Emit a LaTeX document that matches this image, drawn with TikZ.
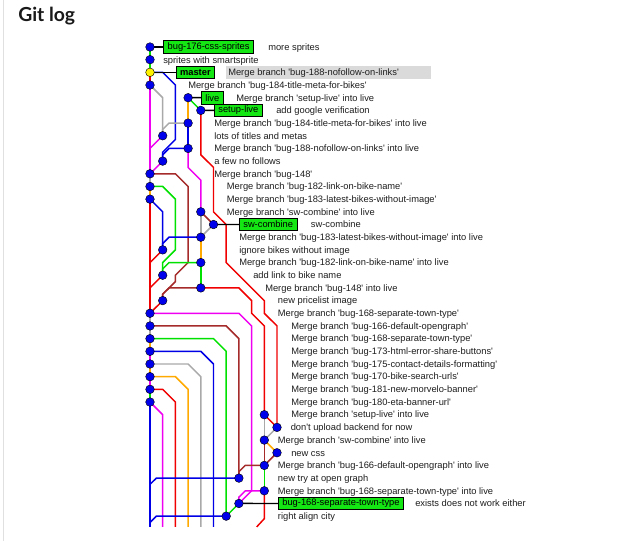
\documentclass[tikz,border=0pt]{standalone}
\usepackage{fontspec}
\setmainfont{Liberation Sans}[Ligatures=TeXOff]
\newfontfamily\titlefont{Lato}
\definecolor{cgreen}{RGB}{0,225,0}
\definecolor{cred}{RGB}{240,0,0}
\definecolor{cblue}{RGB}{0,0,230}
\definecolor{cmag}{RGB}{240,0,240}
\definecolor{cgray}{RGB}{169,169,169}
\definecolor{cbrown}{RGB}{165,42,42}
\definecolor{corange}{RGB}{255,170,0}
\definecolor{tagfill}{RGB}{20,230,20}
\definecolor{dotblue}{RGB}{0,0,235}
\definecolor{hlgray}{RGB}{218,218,218}
\definecolor{txt}{RGB}{30,30,30}
\tikzset{
  ln/.style={line width=1.1pt},
  cdot/.style={circle, fill=dotblue, draw=black, line width=0.3pt, minimum size=6.5pt, inner sep=0pt},
  headdot/.style={cdot, fill=yellow},
  tag/.style={draw=black, line width=0.5pt, fill=tagfill, font=\fontsize{7}{8}\selectfont, inner xsep=3pt, inner ysep=0pt, minimum height=9.5pt, anchor=west, text=black},
  msg/.style={font=\fontsize{7}{8}\selectfont, anchor=base west, inner sep=0pt, text=txt},
  conn/.style={line width=1.1pt, black},
}
\begin{document}
\begin{tikzpicture}[x=0.75pt, y=-0.75pt]
\fill[white] (0,0) rectangle (619,541);
\useasboundingbox (0,0) rectangle (619,541);
\draw[line width=0.8pt, black!12] (3.5,0) -- (3.5,541);
\node[anchor=base west, inner sep=0pt, font=\titlefont\bfseries\fontsize{14.5}{16}\selectfont, text=black!90] (title) at (18,21.7) {Git log};

\begin{scope}[shift={(150,34.32)}, x=9.525pt, y=-9.51pt]
% commit coordinates
\coordinate (k1) at (0,1); \coordinate (k2) at (0,2); \coordinate (k3) at (0,3);
\coordinate (k4) at (0,4); \coordinate (k5) at (3,5); \coordinate (k6) at (4,6);
\coordinate (k7) at (3,7); \coordinate (k8) at (1,8); \coordinate (k9) at (3,9);
\coordinate (k10) at (1,10); \coordinate (k11) at (0,11); \coordinate (k12) at (0,12);
\coordinate (k13) at (0,13); \coordinate (k14) at (4,14); \coordinate (k15) at (5,15);
\coordinate (k16) at (4,16); \coordinate (k17) at (1,17); \coordinate (k18) at (4,18);
\coordinate (k19) at (1,19); \coordinate (k20) at (4,20); \coordinate (k21) at (1,21);
\coordinate (k22) at (0,22); \coordinate (k23) at (0,23); \coordinate (k24) at (0,24);
\coordinate (k25) at (0,25); \coordinate (k26) at (0,26); \coordinate (k27) at (0,27);
\coordinate (k28) at (0,28); \coordinate (k29) at (0,29); \coordinate (k30) at (9,30);
\coordinate (k31) at (10,31); \coordinate (k32) at (9,32); \coordinate (k33) at (10,33);
\coordinate (k34) at (9,34); \coordinate (k35) at (7,35); \coordinate (k36) at (9,36);
\coordinate (k37) at (7,37); \coordinate (k38) at (6,38);
% bottom ends
\coordinate (b0) at (0,38.85); \coordinate (b1) at (1,38.85); \coordinate (b2) at (2,38.85);
\coordinate (b3) at (3,38.85); \coordinate (b4) at (4,38.85); \coordinate (b5) at (5,38.85);
\coordinate (b9) at (8.4,38.85);

% lines, upper part
\draw[ln,cgreen] (k1) -- (k3);
\draw[ln,cred] (k3) -- (k4);
\draw[ln,cblue] (k3) -- (1,3) -- (2,4) -- (2,8.3) -- (1,9.3) -- (k10);
\draw[ln,cmag] (k4) -- (k11);
\draw[ln,cgray] (k4) -- (1,5) -- (k8);
\draw[ln,corange] (k5) -- (k7);
\draw[ln,cgreen] (k5) -- (k6);
\draw[ln,cgray] (k7) -- (1.5,7) -- (1,7.5) -- (k8);
\draw[ln,cblue] (k7) -- (k9);
\draw[ln,cmag] (k8) -- (0,9);
\draw[ln,cblue] (k9) -- (1.5,9) -- (1,9.5) -- (k10);
\draw[ln,cmag] (k9) -- (3,10.5) -- (4,11.5) -- (k14);
\draw[ln,cmag] (k10) -- (k11);
\draw[ln,cred] (k6) -- (4,9.5) -- (5,10.5) -- (5,14) -- (6,15) -- (6,18) -- (7,19) -- (8,20) -- (9,21) -- (9,22) -- (10,23) -- (k31);
\draw[ln,cgray] (k11) -- (k12);
\draw[ln,cbrown] (k11) -- (2,11) -- (3,12) -- (3,18) -- (2,19) -- (2,19.5) -- (1,20.5) -- (k21);
\draw[ln,corange] (k12) -- (k13);
\draw[ln,cgreen] (k12) -- (1,12) -- (2,13) -- (2,17) -- (1,18) -- (k19);
\draw[ln,cred] (k13) -- (k22);
\draw[ln,cblue] (k13) -- (1,14) -- (k17);
\draw[ln,cbrown] (k14) -- (k15);
\draw[ln,cgray] (k14) -- (k16);
\draw[ln,cgray] (k15) -- (k16);
\draw[ln,cblue] (k16) -- (1.5,16) -- (1,16.5) -- (k17);
\draw[ln,corange] (k16) -- (k18);
\draw[ln,cred] (k17) -- (0,18);
\draw[ln,cgreen] (k18) -- (1.5,18) -- (1,18.5) -- (k19);
\draw[ln,cgreen] (k18) -- (k20);
\draw[ln,cred] (k19) -- (0,20);
\draw[ln,cbrown] (k20) -- (1.5,20) -- (1,20.5) -- (k21);
\draw[ln,cred] (k20) -- (7,20) -- (8,21) -- (8,22) -- (9,23) -- (k30);
\draw[ln,cred] (k21) -- (k22);

% lower part
\draw[ln,cgray] (k22) -- (k23);
\draw[ln,cgray] (k23) -- (k24);
\draw[ln,corange] (k24) -- (k25);
\draw[ln,cmag] (k25) -- (k26);
\draw[ln,corange] (k26) -- (k27);
\draw[ln,cmag] (k27) -- (k28);
\draw[ln,cgreen] (k28) -- (k29);
\draw[ln,cmag] (k22) -- (7,22) -- (8,23) -- (8,36) -- (k37);
\draw[ln,cbrown] (k23) -- (6,23) -- (7,24) -- (k35);
\draw[ln,cgreen] (k24) -- (5,24) -- (6,25) -- (k38);
\draw[ln,cblue] (k25) -- (4,25) -- (5,26) -- (b5);
\draw[ln,cgray] (k26) -- (3,26) -- (4,27) -- (b4);
\draw[ln,corange] (k27) -- (2,27) -- (3,28) -- (b3);
\draw[ln,cred] (k28) -- (1,28) -- (2,29) -- (b2);
\draw[ln,cmag] (k29) -- (1,30) -- (b1);
\draw[ln,cblue] (k29) -- (b0);
\draw[ln,cred] (k30) -- (k31);
\draw[ln,cgray] (k30) -- (k32);
\draw[ln,cgray] (k31) -- (k32);
\draw[ln,corange] (k32) -- (k33);
\draw[ln,cbrown] (k32) -- (k34);
\draw[ln,cbrown] (k33) -- (k34);
\draw[ln,cgreen] (k34) -- (k36);
\draw[ln,cbrown] (k34) -- (7.5,34) -- (7,34.5) -- (k35);
\draw[ln,cblue] (k35) -- (0.5,35) -- (0,35.5);
\draw[ln,cmag] (k36) -- (7.5,36) -- (7,36.5) -- (k37);
\draw[ln,cred] (k36) -- (9,38.2) -- (b9);
\draw[ln,cgreen] (k37) -- (k38);
\draw[ln,cblue] (k38) -- (0.5,38) -- (0,38.5);
\end{scope}

% branch tags
\node[tag] (t1) at (163.3,47) {bug-176-css-sprites};
\node[tag, font=\fontsize{7}{8}\selectfont\bfseries] (t3) at (175.7,72.36) {master};
\node[tag] (t5) at (201,97.7) {live};
\node[tag] (t6) at (214,110.4) {setup-live};
\node[tag] (t15) at (239,224.5) {sw-combine};
\node[tag] (t37) at (278,503.5) {bug-168-separate-town-type};
\draw[conn] (k1) -- (t1.west);
\draw[conn] (k3) -- (t3.west);
\draw[conn] (k5) -- (t5.west);
\draw[conn] (k6) -- (t6.west);
\draw[conn] (k15) -- (t15.west);
\draw[conn] (k37) -- (t37.west);

% dots
\foreach \k in {1,2,4,5,6,7,8,9,10,11,12,13,14,15,16,17,18,19,20,21,22,23,24,25,26,27,28,29,30,31,32,33,34,35,36,37,38}
  \node[cdot] (d\k) at (k\k) {};
\node[headdot] (d3) at (k3) {};

% messages
\fill[hlgray] (226,66) rectangle (431,79);
\node[msg] (m1) at (268,50.4) {more sprites};
\node[msg] (m2) at (163,63.1) {sprites with smartsprite};
\node[msg] (m3) at (228,75.8) {Merge branch 'bug-188-nofollow-on-links'};
\node[msg] (m4) at (188,88.4) {Merge branch 'bug-184-title-meta-for-bikes'};
\node[msg] (m5) at (236,101.1) {Merge branch 'setup-live' into live};
\node[msg] (m6) at (276,113.8) {add google verification};
\node[msg] (m7) at (214,126.5) {Merge branch 'bug-184-title-meta-for-bikes' into live};
\node[msg] (m8) at (214,139.1) {lots of titles and metas};
\node[msg] (m9) at (214,151.8) {Merge branch 'bug-188-nofollow-on-links' into live};
\node[msg] (m10) at (214,164.5) {a few no follows};
\node[msg] (m11) at (214,177.2) {Merge branch 'bug-148'};
\node[msg] (m12) at (226.7,189.9) {Merge branch 'bug-182-link-on-bike-name'};
\node[msg] (m13) at (226.7,202.5) {Merge branch 'bug-183-latest-bikes-without-image'};
\node[msg] (m14) at (226.7,215.2) {Merge branch 'sw-combine' into live};
\node[msg] (m15) at (310.7,227.9) {sw-combine};
\node[msg] (m16) at (239,240.6) {Merge branch 'bug-183-latest-bikes-without-image' into live};
\node[msg] (m17) at (239,253.2) {ignore bikes without image};
\node[msg] (m18) at (239,265.9) {Merge branch 'bug-182-link-on-bike-name' into live};
\node[msg] (m19) at (253,278.6) {add link to bike name};
\node[msg] (m20) at (265,291.3) {Merge branch 'bug-148' into live};
\node[msg] (m21) at (277.7,303.9) {new pricelist image};
\node[msg] (m22) at (277.7,316.6) {Merge branch 'bug-168-separate-town-type'};
\node[msg] (m23) at (291,329.3) {Merge branch 'bug-166-default-opengraph'};
\node[msg] (m24) at (291,342) {Merge branch 'bug-168-separate-town-type'};
\node[msg] (m25) at (291,354.7) {Merge branch 'bug-173-html-error-share-buttons'};
\node[msg] (m26) at (291,367.3) {Merge branch 'bug-175-contact-details-formatting'};
\node[msg] (m27) at (291,380) {Merge branch 'bug-170-bike-search-urls'};
\node[msg] (m28) at (291,392.7) {Merge branch 'bug-181-new-morvelo-banner'};
\node[msg] (m29) at (291,405.4) {Merge branch 'bug-180-eta-banner-url'};
\node[msg] (m30) at (291,418) {Merge branch 'setup-live' into live};
\node[msg] (m31) at (290.5,430.7) {don't upload backend for now};
\node[msg] (m32) at (277.7,443.4) {Merge branch 'sw-combine' into live};
\node[msg] (m33) at (291,456.1) {new css};
\node[msg] (m34) at (277.7,468.7) {Merge branch 'bug-166-default-opengraph' into live};
\node[msg] (m35) at (277.7,481.4) {new try at open graph};
\node[msg] (m36) at (277.7,494.1) {Merge branch 'bug-168-separate-town-type' into live};
\node[msg] (m37) at (415,506.9) {exists does not work either};
\node[msg] (m38) at (277.7,519.5) {right align city};
\end{tikzpicture}
\end{document}
